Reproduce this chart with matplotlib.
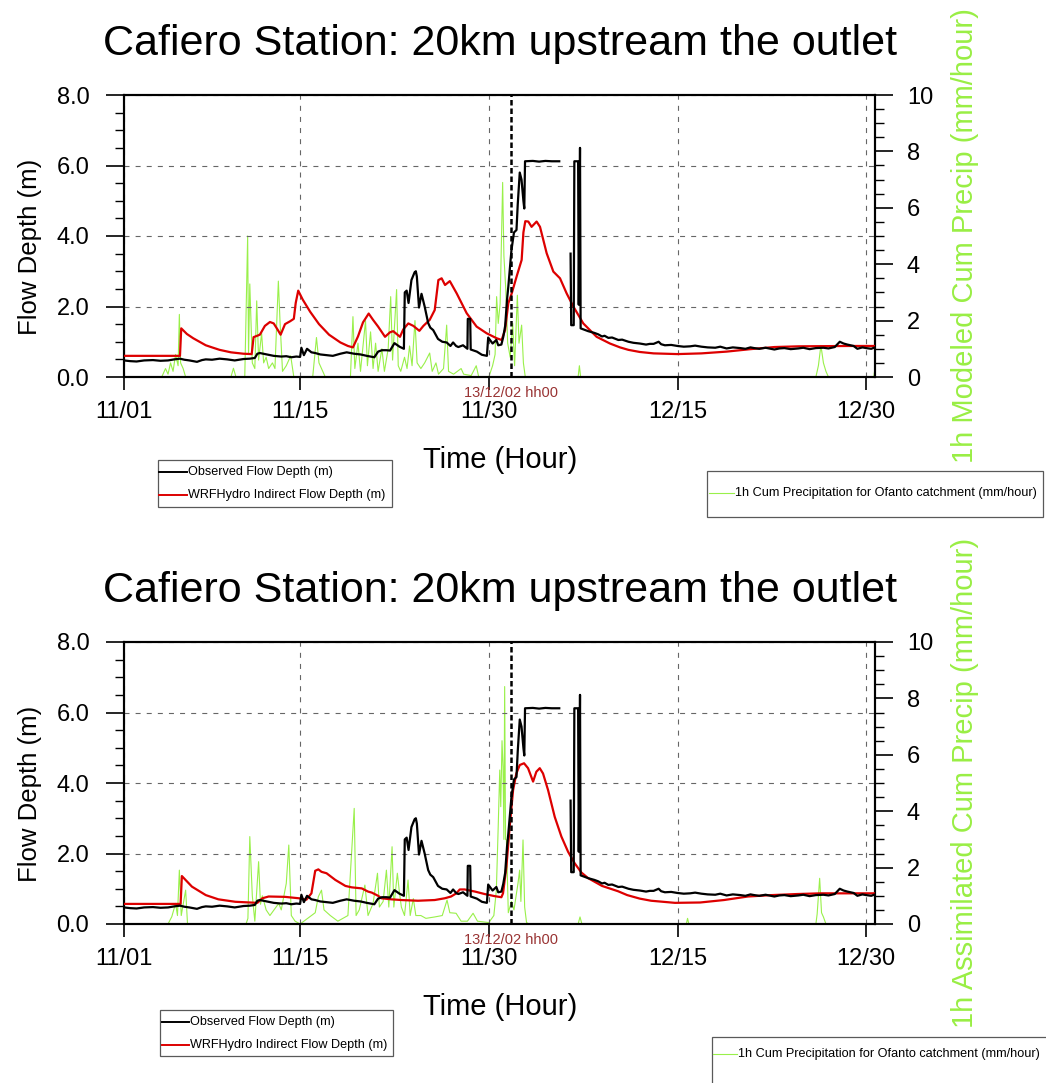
import numpy as np
import matplotlib
matplotlib.use('Agg')
import matplotlib.pyplot as plt
from matplotlib.lines import Line2D
from matplotlib.patches import Rectangle
from matplotlib.ticker import MultipleLocator, FormatStrFormatter
import matplotlib.transforms as mtransforms

plt.rcParams['font.family'] = ['Liberation Sans', 'DejaVu Sans']

W, H = 1046, 1083

title = "Cafiero Station: 20km upstream the outlet"
xtick_days = [0, 14, 29, 44, 59]
xtick_labels = ["11/01", "11/15", "11/30", "12/15", "12/30"]
event_day = 30.8
event_label = "13/12/02 hh00"
right_labels = ["1h Modeled Cum Precip (mm/hour)", "1h Assimilated Cum Precip (mm/hour)"]
legend_labels = ["Observed Flow Depth (m)", "WRFHydro Indirect Flow Depth (m)",
                 "1h Cum Precipitation for Ofanto catchment (mm/hour)"]

# Observed flow depth (m), shared by both panels
obs_day = [0.0, 0.5, 1.0, 1.6, 2.3, 2.9, 3.5, 4.0, 4.45, 4.8, 5.2, 5.8, 6.2, 6.5, 7.0, 7.6,
           8.2, 8.8, 9.5, 10.0, 10.4, 10.6, 10.8, 11.2, 11.6, 11.9, 12.5, 12.9, 13.3, 13.7,
           14.0, 14.1, 14.3, 14.55, 14.9, 15.2, 15.6, 16.1, 16.6, 17.2, 17.7, 18.3, 18.8,
           19.3, 19.9, 20.2, 20.5, 20.85, 21.15, 21.5, 21.9, 22.25, 22.32, 22.47, 22.62,
           22.85, 23.1, 23.2, 23.28, 23.45, 23.65, 23.9, 24.18, 24.35, 24.58, 24.96, 25.3,
           25.65, 25.95, 26.16, 26.4, 26.58, 26.95, 27.3, 27.33, 27.52, 27.56, 28.05, 28.45,
           28.85, 28.95, 29.3, 29.6, 29.75, 30.0, 30.15, 30.3, 30.45, 30.55, 30.8, 31.0,
           31.2, 31.3, 31.46, 31.6, 31.75, 31.82, 31.88, 32.5, 33.0, 33.5, 34.0, 34.6, 35.0,
           35.5, 35.55, 35.75, 35.8, 36.1, 36.15, 36.25, 36.3, 36.9, 37.2, 37.4, 37.7, 38.0,
           38.2, 38.5, 38.8, 39.3, 39.6, 40.1, 40.5, 41.0, 41.5, 41.8, 42.1, 42.5, 42.7,
           43.0, 43.5, 44.0, 44.5, 45.0, 45.4, 45.9, 46.4, 47.0, 47.4, 47.9, 48.4, 49.0,
           49.4, 49.8, 50.1, 50.5, 51.0, 51.7, 52.1, 52.5, 53.0, 53.6, 54.0, 54.5, 55.0,
           55.6, 56.0, 56.5, 56.9, 57.2, 57.5, 58.0, 58.3, 58.7, 59.0, 59.4, 59.7]
obs_val = [0.47, 0.45, 0.44, 0.47, 0.48, 0.46, 0.47, 0.50, 0.52, 0.49, 0.47, 0.43, 0.48, 0.50,
           0.49, 0.52, 0.50, 0.47, 0.51, 0.52, 0.54, 0.66, 0.68, 0.65, 0.62, 0.60, 0.58, 0.59,
           0.56, 0.58, 0.57, 0.83, 0.62, 0.80, 0.70, 0.68, 0.64, 0.62, 0.60, 0.66, 0.70, 0.66,
           0.64, 0.60, 0.56, 0.72, 0.76, 0.76, 0.75, 0.96, 0.86, 0.80, 2.40, 2.45, 2.10, 2.75,
           2.97, 3.00, 2.85, 1.97, 2.36, 2.00, 1.53, 1.40, 1.33, 1.08, 1.00, 0.98, 0.88, 0.98,
           0.88, 0.85, 0.90, 0.80, 1.65, 1.65, 0.78, 0.72, 0.63, 0.60, 1.12, 0.95, 1.05, 0.90,
           0.92, 1.14, 1.45, 2.20, 2.56, 3.60, 4.10, 4.17, 4.90, 5.80, 5.60, 5.00, 4.78, 6.12,
           6.13, 6.11, 6.13, 6.12, 6.12, np.nan, 3.50, 1.47, 1.47, 6.12, 6.12, 2.05, 6.50,
           1.38, 1.30, 1.27, 1.25, 1.21, 1.15, 1.17, 1.11, 1.12, 1.05, 1.06, 1.00, 0.97, 0.95,
           0.92, 0.94, 0.94, 1.00, 0.93, 0.90, 0.91, 0.88, 0.86, 0.87, 0.89, 0.86, 0.84, 0.83,
           0.86, 0.81, 0.84, 0.82, 0.80, 0.84, 0.82, 0.80, 0.83, 0.78, 0.81, 0.82, 0.79, 0.81,
           0.83, 0.79, 0.82, 0.83, 0.81, 0.85, 1.00, 0.95, 0.92, 0.88, 0.80, 0.84, 0.82, 0.80,
           0.84]

# WRFHydro flow depth (m), top panel (modeled precip)
mod_day_top = [0.0, 4.45, 4.55, 5.0, 5.5, 6.0, 6.5, 7.0, 7.6, 8.5, 9.5, 10.15, 10.3, 10.8,
               11.2, 11.6, 11.9, 12.2, 12.45, 12.8, 13.2, 13.5, 13.65, 13.85, 14.2, 14.8,
               15.5, 16.3, 17.2, 17.8, 18.2, 18.6, 19.0, 19.45, 19.8, 20.2, 20.75, 21.15,
               21.4, 21.94, 22.2, 22.6, 23.0, 23.48, 23.8, 24.3, 24.7, 24.99, 25.25, 25.52,
               25.9, 26.45, 27.24, 28.03, 28.83, 29.62, 30.02, 30.29, 30.55, 30.82, 31.21,
               31.61, 31.75, 31.9, 32.14, 32.4, 32.8, 33.07, 33.6, 34.13, 34.66, 35.19, 35.72,
               36.51, 37.57, 38.63, 39.43, 40.1, 41.0, 42.1, 44.0, 45.9, 47.9, 49.8, 51.7,
               53.6, 57.5, 59.7]
mod_val_top = [0.60, 0.60, 1.38, 1.22, 1.10, 1.00, 0.90, 0.84, 0.77, 0.70, 0.66, 0.65, 1.13,
               1.20, 1.45, 1.56, 1.52, 1.35, 1.20, 1.50, 1.58, 1.65, 2.10, 2.45, 2.20, 1.85,
               1.50, 1.20, 0.98, 0.88, 0.84, 1.15, 1.55, 1.80, 1.62, 1.43, 1.14, 1.27, 1.30,
               1.14, 1.35, 1.52, 1.45, 1.31, 1.45, 1.62, 1.90, 2.75, 2.80, 2.61, 2.72, 2.37,
               1.81, 1.43, 1.24, 1.10, 1.05, 1.33, 2.09, 2.37, 2.85, 3.32, 4.10, 4.42, 4.41,
               4.26, 4.41, 4.26, 3.51, 2.99, 2.80, 2.37, 2.00, 1.52, 1.14, 0.95, 0.84, 0.77,
               0.71, 0.67, 0.65, 0.67, 0.72, 0.79, 0.85, 0.87, 0.88, 0.88]

# WRFHydro flow depth (m), bottom panel (assimilated precip)
mod_day_bot = [0.0, 4.5, 4.6, 5.4, 6.5, 7.5, 8.85, 10.6, 11.0, 11.5, 12.8, 13.9, 14.5, 14.9,
               15.2, 15.45, 15.7, 16.1, 16.8, 17.6, 18.1, 18.9, 19.4, 19.7, 20.2, 20.46,
               21.25, 22.05, 23.37, 24.7, 25.5, 26.0, 26.42, 26.69, 27.08, 27.9, 28.67,
               29.47, 30.0, 30.13, 30.4, 30.66, 30.93, 31.19, 31.46, 31.8, 32.12, 32.52,
               32.78, 33.05, 33.31, 33.71, 34.24, 34.77, 35.3, 35.83, 36.36, 36.9, 38.0,
               39.27, 40.0, 41.0, 41.9, 43.8, 45.8, 47.7, 49.6, 51.5, 53.5, 55.4, 59.7]
mod_val_bot = [0.57, 0.57, 1.36, 1.06, 0.82, 0.70, 0.63, 0.60, 0.73, 0.78, 0.77, 0.73, 0.69,
               0.87, 1.51, 1.55, 1.48, 1.44, 1.25, 1.08, 1.04, 1.01, 0.92, 0.89, 0.80, 0.73,
               0.70, 0.68, 0.66, 0.68, 0.73, 0.78, 0.87, 0.98, 0.98, 0.92, 0.85, 0.79, 0.76,
               0.87, 1.63, 2.76, 3.80, 4.27, 4.51, 4.56, 4.42, 4.04, 4.32, 4.42, 4.27, 3.80,
               3.04, 2.48, 2.05, 1.72, 1.46, 1.30, 1.08, 0.93, 0.82, 0.72, 0.66, 0.60, 0.61,
               0.68, 0.78, 0.82, 0.85, 0.87, 0.87]

# 1h cumulative precipitation (mm/hour), top panel (modeled)
pr_day_top = [0.0, 3.0, 3.3, 3.5, 3.7, 3.9, 4.1, 4.3, 4.4, 4.5, 4.7, 4.9, 8.5, 8.7, 8.9, 9.6,
              9.83, 9.9, 10.0, 10.2, 10.4, 10.55, 10.7, 10.94, 11.1, 11.3, 11.5, 11.8, 12.0,
              12.27, 12.4, 12.6, 12.9, 13.25, 13.5, 15.0, 15.3, 15.5, 15.8, 16.0, 18.0, 18.2,
              18.35, 18.6, 18.8, 19.2, 19.35, 19.6, 19.8, 20.0, 20.2, 20.5, 20.7, 21.0, 21.2,
              21.35, 21.67, 21.8, 22.0, 22.3, 22.5, 22.7, 22.9, 23.13, 23.3, 23.6, 23.9,
              24.3, 24.5, 24.8, 25.0, 25.4, 25.65, 25.8, 26.2, 26.8, 27.0, 27.6, 28.0, 28.2,
              29.0, 29.3, 29.5, 29.62, 29.75, 29.9, 30.1, 30.2, 30.35, 30.5, 30.7, 30.9,
              31.05, 31.27, 31.4, 31.61, 31.75, 31.9, 36.1, 36.2, 36.3, 55.0, 55.2, 55.4,
              55.6, 55.8, 56.0, 59.6, 59.7]
pr_val_top = [0.0, 0.0, 0.3, 0.1, 0.5, 0.2, 0.8, 0.4, 2.22, 0.5, 0.3, 0.0, 0.0, 0.31, 0.0,
              0.0, 5.0, 0.8, 3.3, 0.5, 0.3, 2.7, 0.6, 1.55, 0.5, 0.7, 0.3, 0.5, 0.3, 3.4, 2.0,
              0.2, 0.4, 0.75, 0.0, 0.0, 1.4, 0.5, 0.2, 0.0, 0.0, 2.14, 0.3, 1.2, 0.2, 2.0, 0.4,
              1.6, 0.3, 1.2, 0.2, 1.0, 0.2, 1.0, 2.85, 0.6, 3.1, 0.4, 0.2, 0.7, 0.3, 1.1, 0.4,
              2.0, 0.5, 0.3, 0.5, 0.85, 0.2, 0.5, 0.1, 0.3, 1.84, 0.2, 0.1, 0.3, 0.1, 0.05,
              0.4, 0.0, 0.0, 0.4, 0.8, 2.85, 1.9, 2.6, 6.9, 4.3, 3.1, 1.2, 0.7, 1.9, 0.4, 2.9,
              1.2, 1.84, 0.5, 0.0, 0.0, 0.4, 0.0, 0.0, 0.4, 1.12, 0.5, 0.2, 0.0, 0.0, 0.3]

# 1h cumulative precipitation (mm/hour), bottom panel (assimilated)
pr_day_bot = [0.0, 3.5, 3.8, 4.1, 4.25, 4.4, 4.55, 4.9, 5.05, 9.7, 9.85, 10.0, 10.2, 10.4,
              10.7, 10.85, 11.0, 11.3, 11.6, 12.3, 12.5, 12.9, 13.1, 13.3, 13.6, 14.0, 15.2,
              15.45, 15.7, 15.9, 16.4, 17.0, 17.8, 18.3, 18.45, 18.7, 19.15, 19.4, 19.8,
              20.15, 20.3, 20.6, 20.86, 21.05, 21.31, 21.45, 21.73, 21.9, 22.05, 22.3, 22.58,
              22.75, 23.0, 23.2, 23.6, 24.0, 24.7, 25.3, 25.68, 25.9, 26.4, 26.8, 27.3, 27.75,
              28.1, 29.0, 29.4, 29.6, 29.75, 29.87, 29.95, 30.05, 30.13, 30.2, 30.26, 30.33,
              30.4, 30.55, 30.8, 31.0, 31.32, 31.45, 31.55, 31.72, 31.85, 32.0, 32.2, 36.1,
              36.25, 36.4, 44.7, 44.8, 44.9, 55.0, 55.1, 55.3, 55.45, 55.6, 55.8, 59.7]
pr_val_bot = [0.0, 0.0, 0.26, 0.73, 0.3, 1.91, 0.3, 1.2, 0.0, 0.0, 0.2, 3.1, 1.0, 0.1, 2.21,
              0.7, 1.0, 0.5, 0.3, 0.73, 0.5, 1.44, 2.8, 0.3, 0.1, 0.0, 0.4, 0.97, 1.2, 0.5,
              0.3, 0.1, 0.3, 4.1, 0.3, 0.5, 1.38, 0.3, 0.73, 1.8, 0.6, 0.8, 1.91, 0.6, 2.74,
              0.6, 1.8, 1.1, 0.6, 0.3, 1.56, 0.3, 0.9, 0.3, 0.3, 0.2, 0.25, 0.3, 0.85, 0.4,
              0.38, 0.1, 0.1, 0.38, 0.1, 0.05, 0.3, 1.2, 3.5, 5.46, 4.16, 6.5, 5.58, 3.0, 8.42,
              3.0, 2.98, 0.4, 0.8, 0.5, 1.44, 1.91, 0.8, 2.98, 0.6, 0.05, 0.0, 0.0, 0.25, 0.0,
              0.0, 0.2, 0.0, 0.0, 0.35, 1.62, 0.4, 0.25, 0.0, 0.0]

OBS_C = 'black'
MOD_C = '#dd0000'
PR_C = '#99f04a'
LAB_C = '#99ee44'
EV_C = '#993333'

fig = plt.figure(figsize=(W / 100, H / 100), dpi=100)


def fx(x):
    return x / W


def fy(y):
    return 1 - y / H


def panel(top_px, mod_day, mod_val, pr_day, pr_val, rlabel):
    bot_px = top_px + 282
    ax = fig.add_axes([fx(124), fy(bot_px), 751 / W, 282 / H])
    ax2 = ax.twinx()
    # precipitation on the right axis
    ax2.plot(pr_day, pr_val, color=PR_C, lw=0.8)
    ax2.set_ylim(0, 10)
    ax2.set_yticks([0, 2, 4, 6, 8, 10])
    ax2.set_yticklabels(['0', '2', '4', '6', '8', '10'])
    ax2.yaxis.set_minor_locator(MultipleLocator(0.5))
    ax2.tick_params(axis='y', which='major', direction='out', length=13, width=1.2,
                    pad=10, labelsize=17)
    ax2.tick_params(axis='y', which='minor', direction='out', length=6.5, width=1)
    # flow lines
    ax.plot(obs_day, obs_val, color=OBS_C, lw=1.6, zorder=4)
    ax.plot(mod_day, mod_val, color=MOD_C, lw=1.6, zorder=3)
    ax.set_xlim(0, 59.7)
    ax.set_ylim(0, 8)
    ax.set_xticks(xtick_days)
    ax.set_xticklabels(xtick_labels)
    ax.set_yticks([0, 2, 4, 6, 8])
    ax.yaxis.set_major_formatter(FormatStrFormatter('%.1f'))
    ax.yaxis.set_minor_locator(MultipleLocator(0.5))
    ax.tick_params(axis='y', which='major', direction='out', length=13, width=1.2,
                   pad=12, labelsize=17, right=False)
    ax.tick_params(axis='y', which='minor', direction='out', length=6.5, width=1, right=False)
    ax.tick_params(axis='x', which='major', direction='out', length=9.5, width=1.2,
                   pad=8, labelsize=17, top=False)
    for a in (ax, ax2):
        for s in a.spines.values():
            s.set_linewidth(1.5)
    ax.grid(True, which='major', axis='both', color='0.4', lw=0.8, ls=(0, (4.5, 5.5)))
    ax.set_zorder(ax2.get_zorder() + 1)
    ax.patch.set_visible(False)
    # event marker
    ax.axvline(event_day, color='black', lw=1.8, ls=(0, (2.2, 1.2)), zorder=5)
    trans = mtransforms.blended_transform_factory(ax.transData, ax.transAxes)
    ax.text(event_day, -0.057, event_label, transform=trans, ha='center', va='center',
            color=EV_C, fontsize=10.5)
    # titles and labels
    fig.text(fx(500), fy(top_px - 40), title, ha='center', va='baseline', fontsize=31)
    fig.text(fx(30), fy(top_px + 152), "Flow Depth (m)", rotation=90, ha='center',
             va='center', fontsize=18.5)
    fig.text(fx(500), fy(bot_px + 83), "Time (Hour)", ha='center', va='center', fontsize=21)
    fig.text(fx(965), fy(top_px + 141), rlabel, rotation=90, ha='center', va='center',
             fontsize=21, color=LAB_C)
    return ax


def legend_box(x0, y0, x1, y1, entries):
    fig.add_artist(Rectangle((fx(x0), fy(y1)), fx(x1) - fx(x0), fy(y0) - fy(y1),
                             transform=fig.transFigure, fill=False, edgecolor='0.35',
                             lw=0.9))
    for (lx0, lx1, ly, col, lw, txt) in entries:
        fig.add_artist(Line2D([fx(lx0), fx(lx1)], [fy(ly), fy(ly)], transform=fig.transFigure,
                              color=col, lw=lw))
        fig.text(fx(lx1 + 1), fy(ly), txt, ha='left', va='center', fontsize=9.1)


panel(95, mod_day_top, mod_val_top, pr_day_top, pr_val_top, right_labels[0])
panel(642, mod_day_bot, mod_val_bot, pr_day_bot, pr_val_bot, right_labels[1])

legend_box(158, 460, 392, 507, [(159, 187, 472, OBS_C, 1.4, legend_labels[0]),
                                (159, 187, 495, MOD_C, 1.4, legend_labels[1])])
legend_box(707, 471, 1043, 517, [(709, 734, 493, PR_C, 0.8, legend_labels[2])])
legend_box(160, 1010, 393, 1056, [(162, 189, 1022, OBS_C, 1.4, legend_labels[0]),
                                  (162, 189, 1045, MOD_C, 1.4, legend_labels[1])])
legend_box(712, 1037, 1050, 1090, [(713, 737, 1054, PR_C, 0.8, legend_labels[2])])

fig.savefig('out.png', dpi=100)
